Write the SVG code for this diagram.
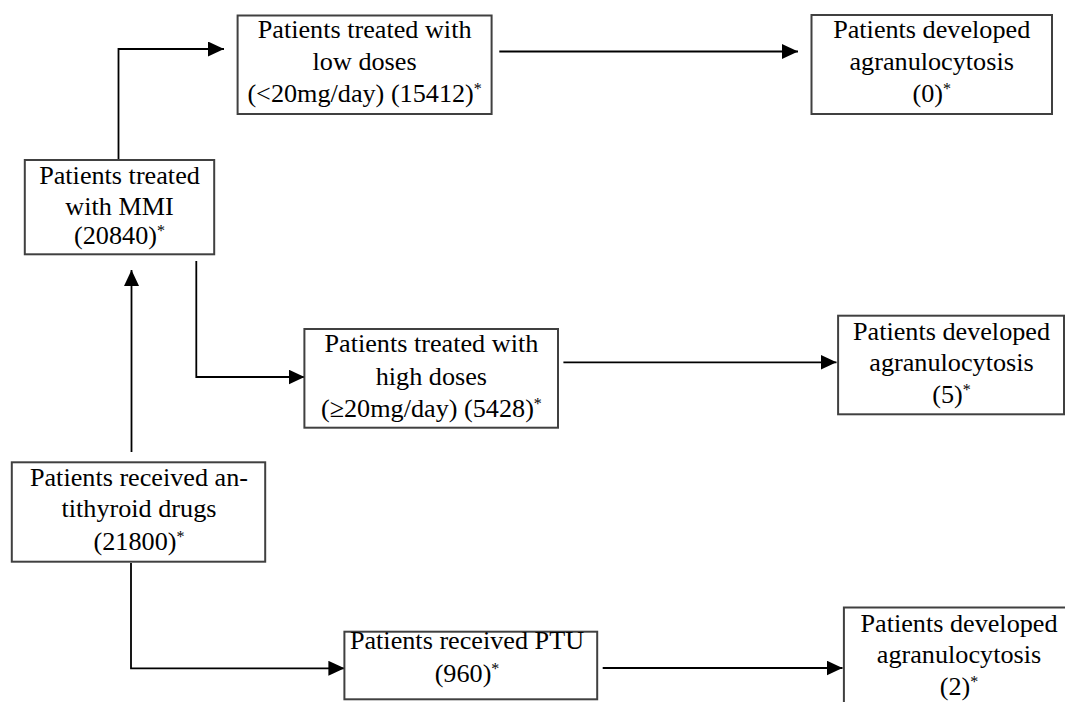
<svg xmlns="http://www.w3.org/2000/svg" width="1065" height="702" viewBox="0 0 1065 702">
<style>
.box{fill:#fff;stroke:#404040;stroke-width:2}
.lbl{font-family:"Liberation Serif","Times New Roman",serif;font-size:26.2px;fill:#000;text-anchor:middle}
.sup{font-size:16px}
.conn{fill:none;stroke:#000;stroke-width:1.8}
</style>
<defs>
<marker id="ah" markerUnits="userSpaceOnUse" markerWidth="16" markerHeight="16" refX="16" refY="7.5" orient="auto">
<path d="M0,0 L16,7.5 L0,15 z" fill="#000"/>
</marker>
</defs>
<rect width="1065" height="702" fill="#fff"/>
<g id="connectors">
<path class="conn" d="M118.5,160 V49 H224" marker-end="url(#ah)"/>
<path class="conn" d="M499.3,51.5 H798" marker-end="url(#ah)"/>
<path class="conn" d="M131.5,452 V270" marker-end="url(#ah)"/>
<path class="conn" d="M196.3,261 V377 H304.5" marker-end="url(#ah)"/>
<path class="conn" d="M563.4,362.3 H836.5" marker-end="url(#ah)"/>
<path class="conn" d="M131,563 V668.3 H344.4" marker-end="url(#ah)"/>
<path class="conn" d="M602.7,668 H842.5" marker-end="url(#ah)"/>
</g>
<g id="n-low">
<rect class="box" x="237.6" y="15.5" width="254" height="98.5"/>
<text class="lbl"><tspan x="364.6" y="38">Patients treated with</tspan><tspan x="364.6" y="69.8">low doses</tspan><tspan x="364.6" y="101.5">(&lt;20mg/day) (15412)<tspan class="sup" dy="-8">*</tspan></tspan></text>
</g>
<g id="n-agran1">
<rect class="box" x="811.5" y="15" width="240.5" height="99"/>
<text class="lbl"><tspan x="931.7" y="38">Patients developed</tspan><tspan x="931.7" y="69.8">agranulocytosis</tspan><tspan x="931.7" y="101.5">(0)<tspan class="sup" dy="-8">*</tspan></tspan></text>
</g>
<g id="n-mmi">
<rect class="box" x="24.8" y="160" width="189.4" height="94.3"/>
<text class="lbl"><tspan x="119.5" y="183.5">Patients treated</tspan><tspan x="119.5" y="214.5">with MMI</tspan><tspan x="119.5" y="244">(20840)<tspan class="sup" dy="-8">*</tspan></tspan></text>
</g>
<g id="n-high">
<rect class="box" x="304.4" y="329" width="253.6" height="98.7"/>
<text class="lbl"><tspan x="431.4" y="352">Patients treated with</tspan><tspan x="431.4" y="385">high doses</tspan><tspan x="431.4" y="417">(≥20mg/day) (5428)<tspan class="sup" dy="-8">*</tspan></tspan></text>
</g>
<g id="n-agran2">
<rect class="box" x="838.1" y="315.7" width="225.9" height="98.6"/>
<text class="lbl"><tspan x="951.5" y="339.5">Patients developed</tspan><tspan x="951.5" y="370.5">agranulocytosis</tspan><tspan x="951.5" y="402.5">(5)<tspan class="sup" dy="-8">*</tspan></tspan></text>
</g>
<g id="n-anti">
<rect class="box" x="11.8" y="462.3" width="253.4" height="99.4"/>
<text class="lbl"><tspan x="139" y="486">Patients received an-</tspan><tspan x="139" y="517">tithyroid drugs</tspan><tspan x="139" y="550">(21800)<tspan class="sup" dy="-8">*</tspan></tspan></text>
</g>
<g id="n-ptu">
<rect class="box" x="344.4" y="631.7" width="252.8" height="67.6"/>
<text class="lbl"><tspan x="467" y="649">Patients received PTU</tspan><tspan x="467" y="682">(960)<tspan class="sup" dy="-8">*</tspan></tspan></text>
</g>
<g id="n-agran3">
<rect class="box" x="843.9" y="607.5" width="240" height="120"/>
<text class="lbl"><tspan x="959" y="631.5">Patients developed</tspan><tspan x="959" y="662.5">agranulocytosis</tspan><tspan x="959" y="695">(2)<tspan class="sup" dy="-8">*</tspan></tspan></text>
</g>
</svg>
